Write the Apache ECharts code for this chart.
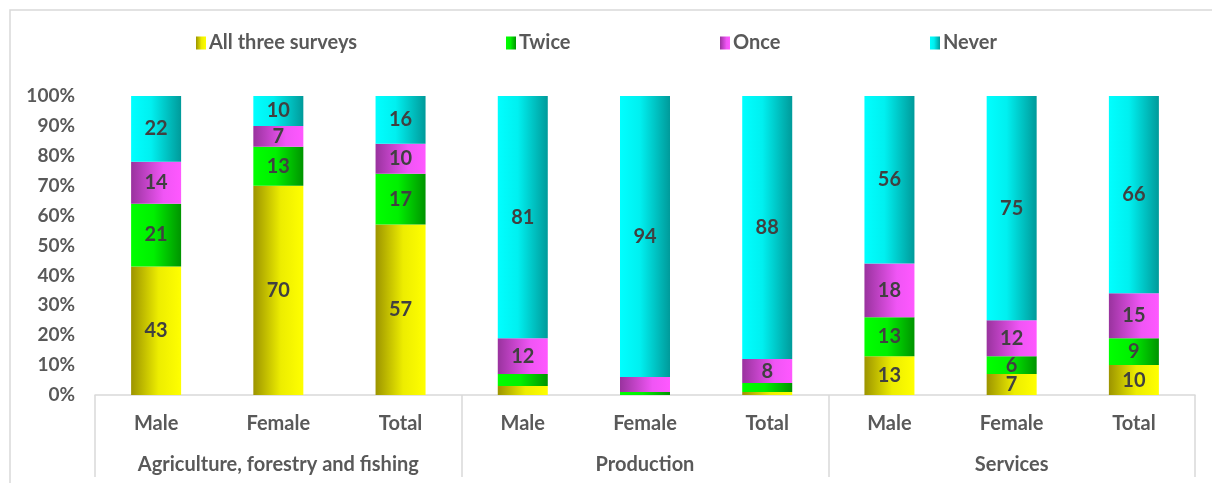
<!DOCTYPE html>
<html>
<head>
<meta charset="utf-8">
<script src="https://cdn.jsdelivr.net/npm/echarts@6/dist/echarts.min.js"></script>
<style>
  html, body { margin: 0; padding: 0; background: #fff; }
  #chart { width: 1212px; height: 483px; }
</style>
</head>
<body>
<div id="chart"></div>
<script>
// Survey participation by sector and sex (percent of workers)
const categories = ['Male', 'Female', 'Total', 'Male', 'Female', 'Total', 'Male', 'Female', 'Total'];
const sectors = ['Agriculture, forestry and fishing', 'Production', 'Services'];
const seriesNames = ['All three surveys', 'Twice', 'Once', 'Never'];

const allThree = [43, 70, 57, 3, 0, 1, 13, 7, 10];
const twice    = [21, 13, 17, 4, 1, 3, 13, 6, 9];
const once     = [14, 7, 10, 12, 5, 8, 18, 12, 15];
const never    = [22, 10, 16, 81, 94, 88, 56, 75, 66];

const yTicks = { min: 0, max: 100, interval: 10 };

const FONT = 'Lato, "Open Sans", sans-serif';
const AXIS_TEXT = '#595959';
const LABEL_TEXT = '#404040';
const LINE = '#D9D9D9';

function hGrad(stops) {
  return {
    type: 'linear', x: 0, y: 0, x2: 1, y2: 0,
    colorStops: stops.map(s => ({ offset: s[0], color: s[1] }))
  };
}

const fills = [
  hGrad([[0, '#9C9400'], [0.55, '#EDED00'], [1, '#FFFF00']]),
  hGrad([[0, '#00FF00'], [0.45, '#00F000'], [1, '#009400']]),
  hGrad([[0, '#99339E'], [0.65, '#F055F5'], [1, '#FF58FF']]),
  hGrad([[0, '#00FFFF'], [0.4, '#00F0F0'], [1, '#009A9A']])
];

const values = [allThree, twice, once, never];
const legendLeft = [191, 501, 715, 925];

const series = seriesNames.map((name, i) => ({
  name: name,
  type: 'bar',
  stack: 'share',
  barWidth: 50,
  data: values[i],
  itemStyle: { color: fills[i] },
  label: {
    show: true,
    position: 'inside',
    fontFamily: FONT,
    fontWeight: 'bold',
    fontSize: 20,
    color: LABEL_TEXT,
    formatter: p => (p.value >= 6 ? String(p.value) : '')
  },
  emphasis: { disabled: true }
}));

const legends = seriesNames.map((name, i) => ({
  data: [{ name: name, icon: 'rect' }],
  left: legendLeft[i],
  top: 28,
  itemWidth: 10,
  itemHeight: 13,
  itemGap: 4,
  selectedMode: false,
  textStyle: { fontFamily: FONT, fontWeight: 'bold', fontSize: 20, color: AXIS_TEXT, padding: [0, 0, 0, -2] }
}));

const chart = echarts.init(document.getElementById('chart'), null, { renderer: 'canvas' });
chart.setOption({
  animation: false,
  backgroundColor: '#fff',
  legend: legends,
  grid: { left: 95, right: 17, top: 96, bottom: 88, containLabel: false },
  graphic: [{
    type: 'rect',
    shape: { x: 10, y: 10, width: 1230, height: 500 },
    style: { fill: 'none', stroke: LINE, lineWidth: 1.5 },
    silent: true
  }],
  xAxis: [{
    type: 'category',
    data: categories,
    axisLine: { show: true, lineStyle: { color: LINE, width: 1.5 } },
    axisTick: { show: false },
    axisLabel: {
      interval: 0, margin: 19,
      fontFamily: FONT, fontWeight: 'bold', fontSize: 20, color: AXIS_TEXT
    }
  }, {
    type: 'category',
    data: sectors,
    position: 'bottom',
    axisLine: { show: false },
    axisTick: { show: true, length: 82, interval: 0, lineStyle: { color: LINE, width: 1.5 } },
    axisLabel: {
      interval: 0, margin: 60,
      fontFamily: FONT, fontWeight: 'bold', fontSize: 20, color: AXIS_TEXT
    }
  }],
  yAxis: {
    type: 'value',
    min: yTicks.min, max: yTicks.max, interval: yTicks.interval,
    axisLine: { show: false },
    axisTick: { show: false },
    splitLine: { show: false },
    axisLabel: {
      margin: 20,
      formatter: '{value}%',
      fontFamily: FONT, fontWeight: 'bold', fontSize: 19, color: AXIS_TEXT
    }
  },
  series: series
});
</script>
</body>
</html>
